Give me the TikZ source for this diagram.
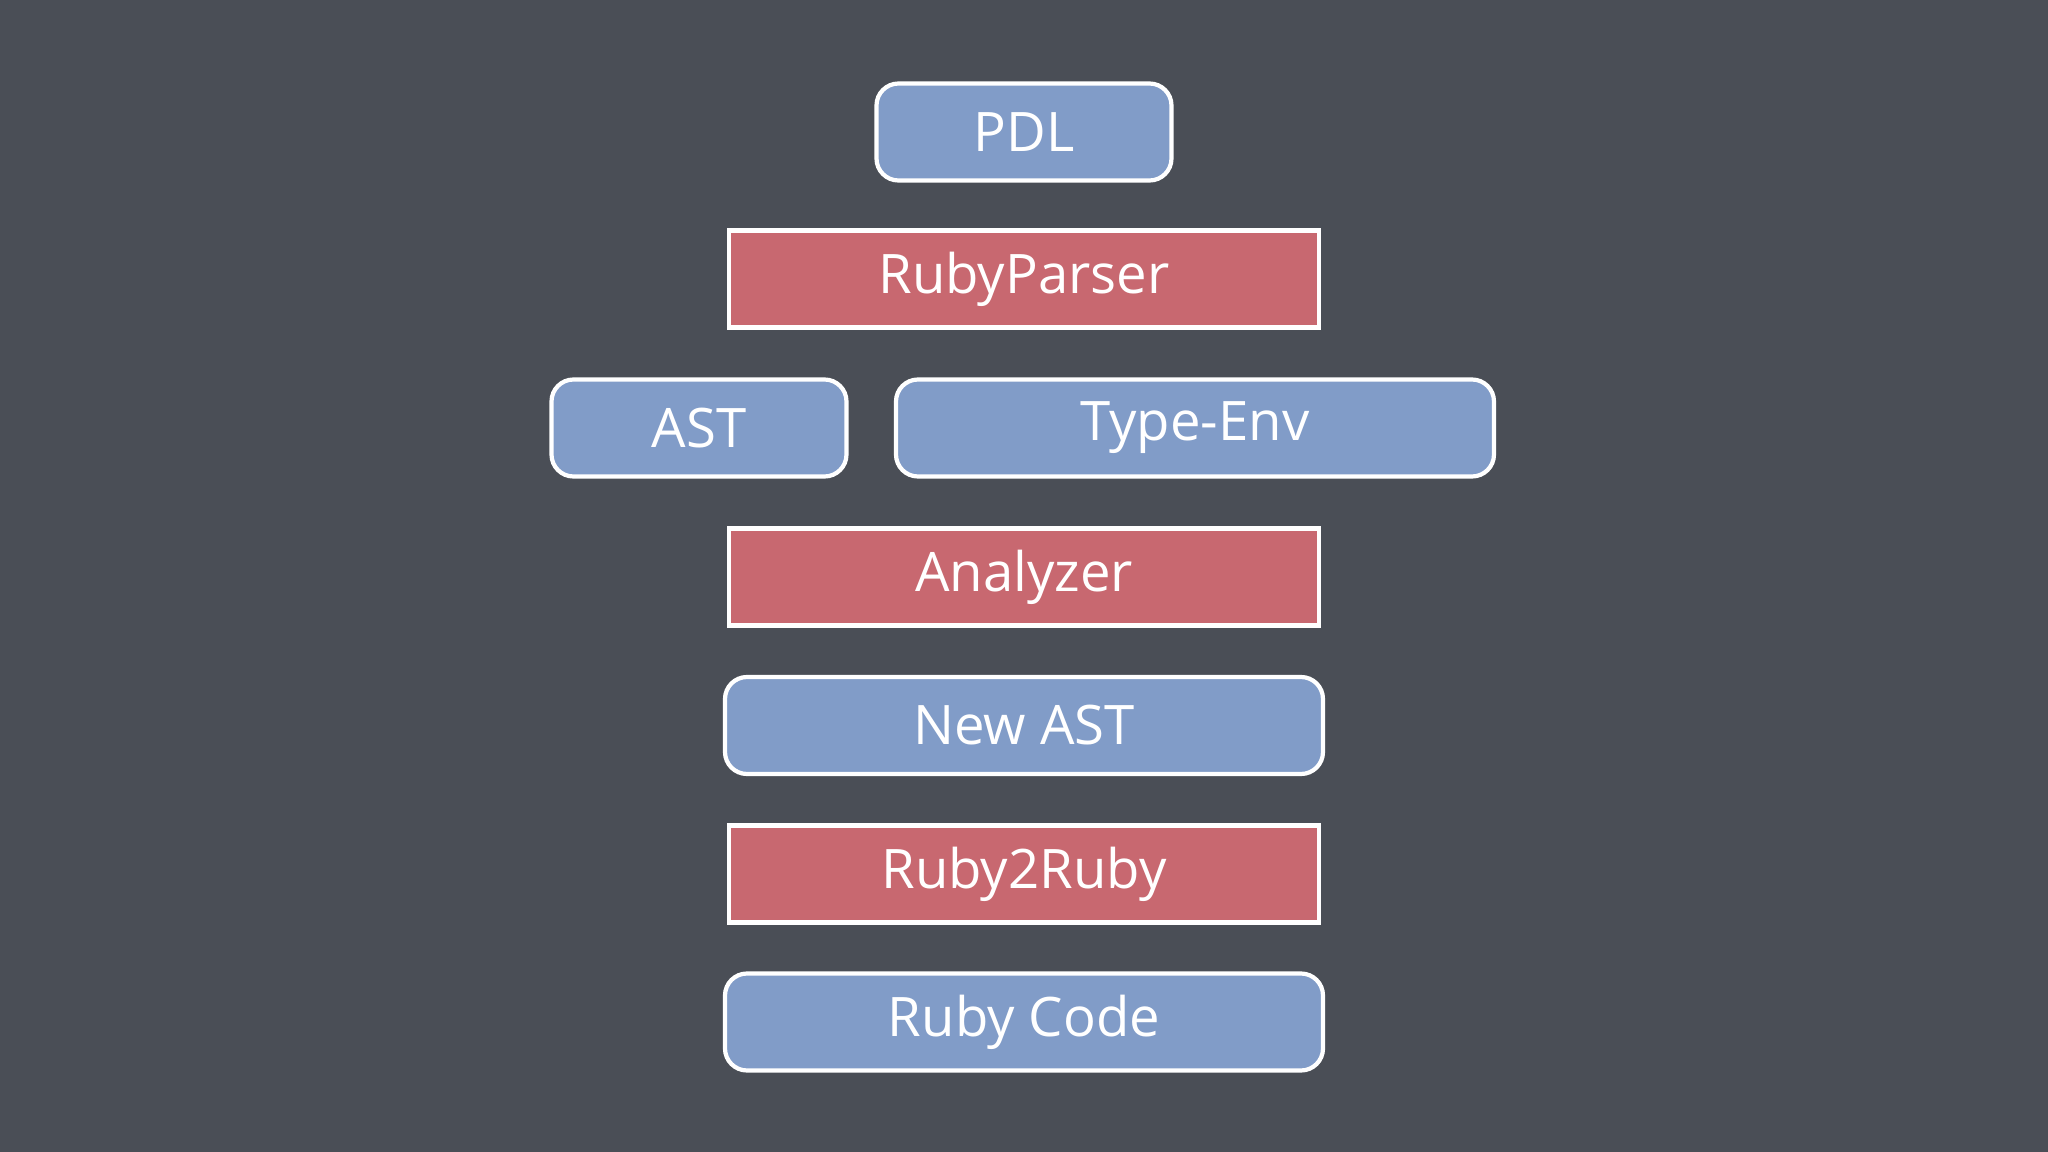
\documentclass[tikz,border=0pt]{standalone}
\usepackage{fontspec}
\setmainfont{Open Sans}
\definecolor{bg}{HTML}{4A4E56}
\definecolor{bluebox}{HTML}{819CC8}
\definecolor{redbox}{HTML}{C86870}
\tikzset{
  base/.style={draw=white, line width=1.2pt, text=white, font=\fontsize{15.5}{18}\selectfont, minimum height=0.97cm, inner sep=0pt},
  datab/.style={base, fill=bluebox, rounded corners=0.22cm},
  procb/.style={base, fill=redbox},
}
\begin{document}
\begin{tikzpicture}
\fill[bg] (0,0) rectangle (20.48,-11.52);
\useasboundingbox (0,0) rectangle (20.48,-11.52);
\node[datab, minimum width=2.95cm] (pdl) at (10.24,-1.32) {PDL};
\node[procb, minimum width=5.9cm] (rp) at (10.24,-2.79) {RubyParser};
\node[datab, minimum width=2.95cm] (ast) at (6.99,-4.28) {AST};
\node[datab, minimum width=5.98cm] (te) at (11.95,-4.28) {Type-Env};
\node[procb, minimum width=5.9cm] (an) at (10.24,-5.77) {Analyzer};
\node[datab, minimum width=5.98cm] (nast) at (10.24,-7.255) {New AST};
\node[procb, minimum width=5.9cm] (r2r) at (10.24,-8.74) {Ruby2Ruby};
\node[datab, minimum width=5.98cm] (rc) at (10.24,-10.22) {Ruby Code};
\end{tikzpicture}
\end{document}
